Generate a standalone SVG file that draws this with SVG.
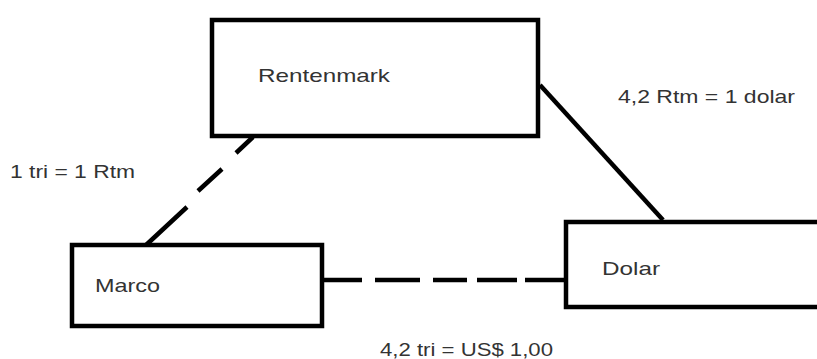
<svg xmlns="http://www.w3.org/2000/svg" width="817" height="359" viewBox="0 0 817 359">
<style>
.box{fill:#fff;stroke:#000;stroke-width:4.5}
.lbl{font-family:"Liberation Sans",Arial,sans-serif;font-size:19px;fill:#333}
.con{stroke:#000;stroke-width:4.5;fill:none;stroke-linecap:butt}
</style>
<rect width="817" height="359" fill="#fff"/>
<g id="connectors">
<path class="con" d="M540,85 L663,220"/>
<path class="con" d="M145,246 L187,207 M198,191 L222,169 M236,153 L253,137"/>
<path class="con" d="M323,280 L362,280 M375,280 L420,280 M433,280 L467,280 M477,280 L517,280 M525,280 L566,280"/>
</g>
<g id="rentenmark">
<rect class="box" x="212" y="20" width="326" height="116"/>
<text class="lbl" x="258" y="82" textLength="132" lengthAdjust="spacingAndGlyphs">Rentenmark</text>
</g>
<g id="marco">
<rect class="box" x="72" y="245" width="250" height="81"/>
<text class="lbl" x="95" y="292" textLength="65" lengthAdjust="spacingAndGlyphs">Marco</text>
</g>
<g id="dolar">
<rect class="box" x="566" y="222" width="270" height="85"/>
<text class="lbl" x="602" y="275" textLength="58" lengthAdjust="spacingAndGlyphs">Dolar</text>
</g>
<g id="labels">
<text class="lbl" x="10" y="178" textLength="125" lengthAdjust="spacingAndGlyphs">1 tri = 1 Rtm</text>
<text class="lbl" x="618" y="103" textLength="177" lengthAdjust="spacingAndGlyphs">4,2 Rtm = 1 dolar</text>
<text class="lbl" x="380" y="356" textLength="173" lengthAdjust="spacingAndGlyphs">4,2 tri = US$ 1,00</text>
</g>
</svg>
